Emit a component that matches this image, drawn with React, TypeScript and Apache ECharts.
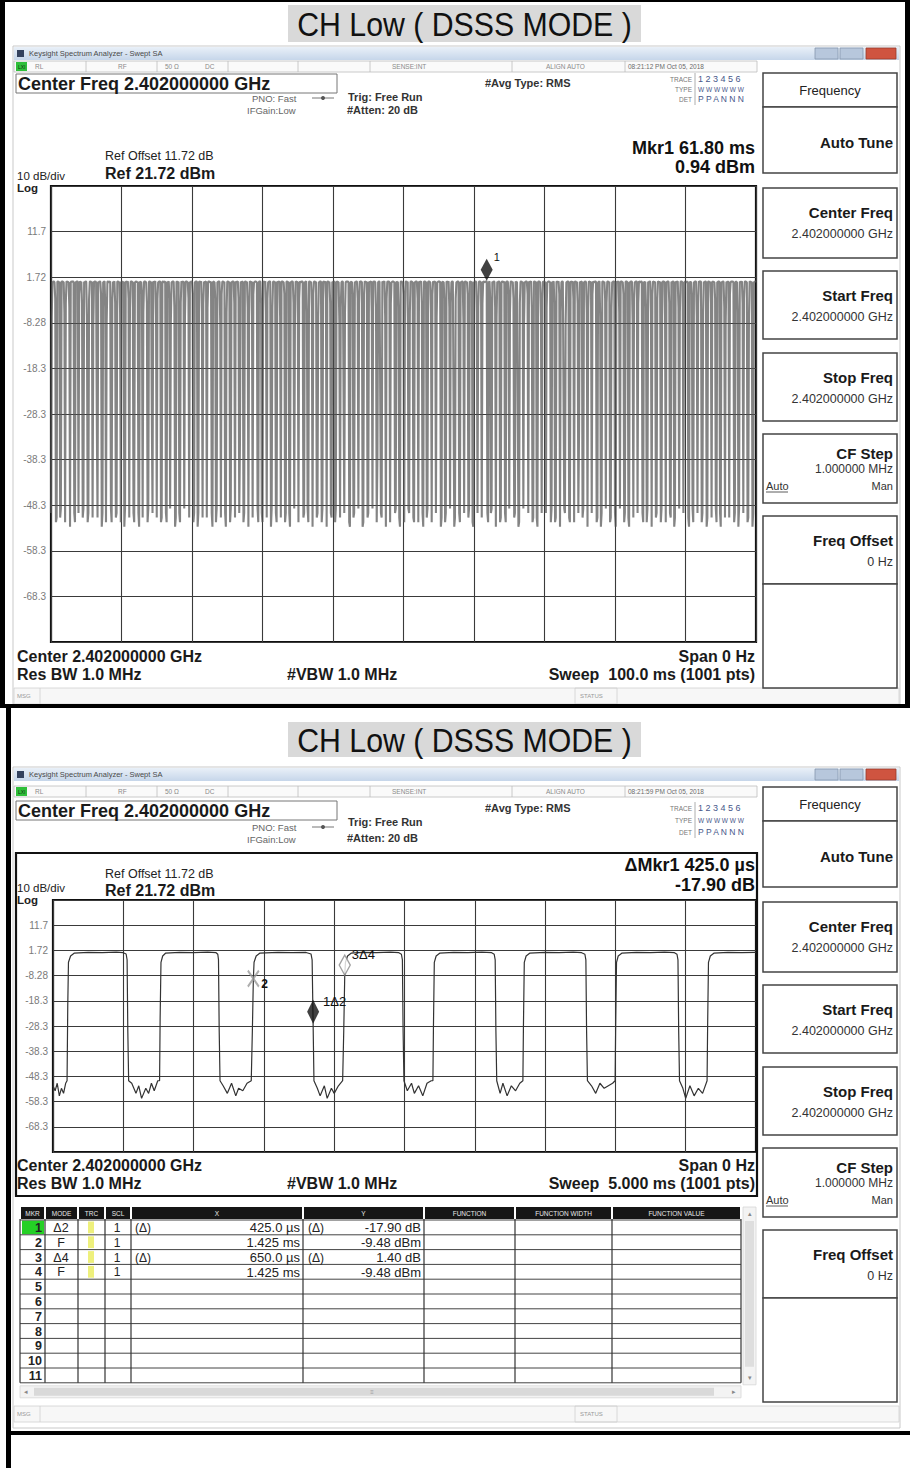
import React, { useEffect, useRef } from 'react';
import * as echarts from 'echarts';

const W = 910;
const H = 1468;
const FONT = '"Liberation Sans", Arial, Helvetica, sans-serif';

// ---------------- data ----------------
const panelTitle = 'CH Low ( DSSS MODE )';
const refLevel = 21.72;
const dbPerDiv = 10;
const yMin = -78.28;
const yTickLabels = ['-78.3', '-68.3', '-58.3', '-48.3', '-38.3', '-28.3', '-18.3', '-8.28', '1.72', '11.7', '21.7'];

// screen 1 : 100 ms sweep, 1001 pts (dBm)
const sweep1Ms = 100;
const points1 = 1001;
const trace1 = [
  -50,-7,0.6,0.7,0.8,0.6,-3,-52,-51,0.7,0.8,0.6,0.7,
  -51,-49,0.7,0.8,0.7,0.6,-6,-52,-4,0.8,0.7,0.7,0.6,
  -5,-53,0.6,0.8,0.7,0.8,0.7,-50,-52,0.6,0.7,0.8,0.7,
  -50,-2,0.8,0.6,0.7,-4,-51,-49,0.7,0.6,0.8,0.7,-7,
  -52,-50,-3,0.7,0.8,0.6,0.7,-51,-9,0.8,0.7,0.8,0.6,
  -30,-51,0.7,0.6,0.8,0.7,-2,-53,-50,0.6,0.7,0.8,-5,
  -52,-8,0.7,0.8,0.6,0.7,0.8,-49,-52,-3,0.7,0.6,0.8,
  -4,-51,-50,0.7,0.8,0.6,0.7,-6,-52,0.8,0.7,0.6,0.7,
  -53,-49,0.8,0.7,0.6,0.8,-3,-51,-5,0.7,0.8,0.7,0.6,
  -50,-52,0.6,0.7,0.8,0.6,0.7,-50,-53,0.8,0.6,0.7,-2,
  -51,-6,0.7,0.8,0.7,0.6,-4,-52,-49,0.7,0.8,0.6,0.7,
  -28,-50,0.8,0.6,0.7,0.8,-7,-51,-3,0.6,0.7,0.8,0.7,
  -52,-51,0.7,0.8,0.6,0.7,0.8,-50,-52,0.7,0.6,0.8,-3,
  -49,-8,0.6,0.7,0.8,0.7,-5,-53,-51,0.8,0.7,0.6,0.7,
  -50,-52,-4,0.8,0.6,0.7,0.8,-49,-7,0.7,0.8,0.7,0.6,
  -3,-51,0.7,0.6,0.8,0.7,-2,-52,-50,0.6,0.7,0.8,0.7,
  -53,-50,0.8,0.7,0.6,0.8,-6,-51,-4,0.7,0.6,0.7,0.8,
  -51,-5,0.7,0.8,0.7,0.6,0.7,-50,-53,0.8,0.7,0.6,-3,
  -52,-49,0.6,0.7,0.8,0.7,-8,-51,-2,0.7,0.8,0.6,0.7,
  -50,-53,-6,0.7,0.8,0.6,0.7,-52,-49,0.6,0.7,0.8,0.7,
  -4,-51,0.8,0.6,0.7,0.8,-3,-50,-35,0.7,0.6,0.7,0.8,
  -52,-50,0.7,0.8,0.6,0.7,-5,-53,-7,0.8,0.7,0.6,0.7,
  -51,-2,0.6,0.7,0.8,0.7,0.6,-49,-52,0.7,0.8,0.7,-4,
  -50,-52,0.8,0.7,0.6,0.8,-6,-51,-3,0.6,0.7,0.8,0.7,
  -53,-49,-5,0.7,0.8,0.6,0.7,-50,-52,0.8,0.6,0.7,0.8,
  -7,-51,0.7,0.8,0.7,0.6,-2,-52,-50,0.7,0.8,0.6,0.7,
  -50,-53,0.6,0.7,0.8,0.7,-4,-49,-8,0.8,0.7,0.7,0.6,
  -52,-3,0.8,0.6,0.7,0.8,0.7,-51,-50,0.6,0.7,0.8,-6,
  -49,-52,0.7,0.8,0.6,0.7,-5,-53,-2,0.7,0.8,0.6,0.7,
  -51,-50,-7,0.6,0.7,0.8,0.7,-52,-49,0.8,0.7,0.6,0.8,
  -3,-53,0.7,0.8,0.6,0.7,-4,-50,-51,0.7,0.6,0.8,0.7,
  -52,-49,0.8,0.7,0.7,0.6,-8,-51,-5,0.6,0.8,0.7,0.7,
  -50,-6,0.6,0.8,0.7,0.8,0.6,-52,-53,0.7,0.7,0.6,-2,
  -51,-50,0.7,0.6,0.8,0.7,-3,-49,-4,0.8,0.7,0.8,0.6,
  -53,-52,-2,0.8,0.7,0.6,0.7,-51,-50,0.7,0.6,0.7,0.8,
  -6,-49,0.7,0.7,0.8,0.6,-5,-52,-38,0.6,0.8,0.7,0.7,
  -50,-51,0.8,0.6,0.7,0.8,-7,-53,-3,0.7,0.7,0.8,0.6,
  -52,-4,0.6,0.7,0.8,0.7,0.6,-50,-49,0.8,0.6,0.7,-5,
  -51,-53,0.7,0.8,0.6,0.7,-2,-52,-8,0.7,0.8,0.6,0.7,
  -49,-50,-6,0.7,0.8,0.7,0.6,-51,-52,0.6,0.7,0.8,0.7,
  -3,-52,0.8,0.6,0.7,0.8,-4,-50,-53,0.7,0.8,0.7,0.6,
  -51,-49,0.7,0.8,0.7,0.6,-6,-52,-2,0.8,0.6,0.7,0.8,
  -50,-7,0.6,0.7,0.8,0.7,0.8,-53,-51,0.7,0.7,0.6,-3,
  -52,-50,0.8,0.7,0.6,0.8,-5,-49,-4,0.6,0.8,0.7,0.7,
  -53,-51,-3,0.6,0.7,0.8,0.7,-50,-52,0.7,0.6,0.8,0.7,
  -8,-50,0.7,0.8,0.6,0.7,-2,-51,-49,0.8,0.7,0.6,0.7,
  -52,-53,0.6,0.7,0.8,0.7,-6,-50,-5,0.7,0.8,0.7,0.6,
  -51,-4,0.8,0.7,0.6,0.8,0.7,0.94,-50,-52,0.6,0.8,-3,
  -50,-49,0.7,0.6,0.8,0.7,-5,-53,-7,0.7,0.6,0.8,0.7,
  -52,-51,0.6,0.8,0.7,0.6,0.8,-50,-52,0.7,0.8,0.7,-2,
  -49,-6,0.7,0.8,0.6,0.7,-3,-51,-50,0.8,0.6,0.7,0.7,
  -53,-52,-4,0.7,0.8,0.6,0.7,-49,-8,0.6,0.7,0.8,0.7,
  -2,-50,0.8,0.6,0.7,0.8,-5,-52,-51,0.7,0.8,0.6,0.7,
  -51,-53,0.7,0.8,0.7,0.6,-7,-50,-3,0.8,0.7,0.7,0.6,
  -50,-5,0.6,0.7,0.8,0.7,0.6,-52,-49,0.7,0.6,0.8,-4,
  -52,-51,0.8,0.7,0.6,0.8,-2,-53,-6,0.6,0.8,0.7,0.7,
  -49,-50,-8,0.6,0.7,0.8,0.7,-51,-52,0.8,0.7,0.6,0.8,
  -3,-52,0.7,0.8,0.6,0.7,-4,-50,-32,0.7,0.6,0.7,0.8,
  -51,-49,0.6,0.7,0.8,0.6,-6,-53,-5,0.8,0.7,0.6,0.7,
  -50,-2,0.8,0.6,0.7,0.8,0.7,-52,-51,0.6,0.7,0.8,-7,
  -53,-50,0.7,0.8,0.6,0.7,-3,-49,-4,0.7,0.8,0.6,0.7,
  -52,-51,-5,0.6,0.7,0.8,0.7,-50,-53,0.8,0.6,0.7,0.8,
  -6,-49,0.7,0.8,0.7,0.6,-2,-52,-50,0.7,0.8,0.7,0.6,
  -51,-53,0.6,0.7,0.8,0.7,-8,-51,-3,0.6,0.7,0.8,0.7,
  -50,-4,0.8,0.7,0.6,0.8,0.7,-50,-52,0.7,0.6,0.7,-5,
  -52,-49,0.7,0.6,0.8,0.7,-6,-53,-2,0.8,0.7,0.6,0.7,
  -51,-50,-3,0.8,0.7,0.6,0.7,-52,-49,0.6,0.8,0.7,0.8,
  -7,-52,0.6,0.7,0.8,0.7,-4,-50,-51,0.7,0.6,0.8,0.7,
  -53,-51,0.8,0.6,0.7,0.8,-5,-49,-6,0.7,0.8,0.7,0.6,
  -50,-3,0.7,0.8,0.6,0.7,0.8,-51,-53,0.6,0.7,0.6,-2,
  -49,-52,0.6,0.7,0.8,0.7,-7,-50,-4,0.8,0.7,0.8,0.7,
  -52,-50,-6,0.7,0.6,0.8,0.7,-53,-51,0.7,0.8,0.6,0.7,
  -4,-51,0.8,0.7,0.7,0.6,-3,-49,-52,0.6,0.7,0.8,0.7,
  -50,-53,0.7,0.6,0.8,0.7,-5,-51,-8,0.7,0.6,0.7,0.8,
  -51,-2,0.6,0.8,0.7,0.8,0.6,-52,-50,0.8,0.7,0.6,-6,
  -53,-49,0.7,0.7,0.6,0.8,-4,-50,-3,0.7,0.8,0.7,0.6,
  -52,-51,-7,0.8,0.7,0.6,0.7,-53,-50,0.6,0.7,0.8,0.7,
];
const marker1Ms = 61.8;
const marker1Dbm = 0.94;

// screen 2 : 5 ms sweep, [time ms, dBm]
const sweep2Ms = 5;
const trace2 = [
  [0, -52], [0.015, -54], [0.03, -51], [0.045, -56], [0.06, -53], [0.075, -55], [0.09, -51], [0.1, -50],
  [0.105, -20], [0.11, -3], [0.125, -0.5], [0.15, 0.6], [0.25, 0.9], [0.35, 0.8], [0.45, 1.0], [0.5, 0.8],
  [0.52, 0.3], [0.527, -2], [0.532, -30], [0.538, -50],
  [0.56, -51], [0.59, -55], [0.61, -52], [0.63, -57], [0.66, -53], [0.68, -55], [0.7, -51], [0.72, -54], [0.745, -50], [0.758, -50],
  [0.762, -25], [0.768, -3], [0.78, -0.5], [0.8, 0.6], [0.9, 0.9], [1.0, 0.8], [1.1, 1.0], [1.16, 0.8],
  [1.172, 0.2], [1.177, -2], [1.182, -30], [1.188, -50],
  [1.21, -52], [1.24, -55], [1.27, -51], [1.3, -56], [1.32, -53], [1.35, -54], [1.38, -51], [1.41, -50],
  [1.418, -30], [1.425, -9.48], [1.43, -3], [1.445, -0.5], [1.47, 0.6], [1.6, 0.9], [1.7, 0.8], [1.8, 0.9],
  [1.835, 0.3], [1.843, -2], [1.85, -27.38], [1.856, -50],
  [1.88, -53], [1.9, -56], [1.93, -52], [1.95, -57], [1.98, -53], [2.0, -55], [2.03, -52], [2.06, -50],
  [2.068, -30], [2.075, -8.08], [2.08, -3], [2.095, -0.5], [2.12, 0.6], [2.2, 0.9], [2.3, 0.8], [2.4, 1.0], [2.46, 0.8],
  [2.478, 0.2], [2.485, -2], [2.49, -30], [2.496, -50],
  [2.52, -54], [2.55, -51], [2.57, -55], [2.6, -52], [2.63, -56], [2.66, -51], [2.69, -50], [2.702, -50],
  [2.706, -28], [2.712, -3], [2.725, -0.5], [2.75, 0.6], [2.85, 0.9], [2.95, 0.8], [3.05, 1.0], [3.12, 0.8],
  [3.138, 0.2], [3.145, -2], [3.15, -30], [3.156, -50],
  [3.18, -55], [3.2, -51], [3.23, -56], [3.26, -52], [3.29, -54], [3.32, -51], [3.342, -50],
  [3.346, -28], [3.352, -3], [3.365, -0.5], [3.39, 0.6], [3.5, 0.9], [3.6, 0.8], [3.7, 1.0], [3.76, 0.8],
  [3.783, 0.2], [3.79, -2], [3.795, -30], [3.801, -50],
  [3.83, -52], [3.86, -55], [3.89, -51], [3.92, -53], [3.95, -52], [3.98, -51], [3.998, -50],
  [4.002, -28], [4.008, -3], [4.02, -0.5], [4.045, 0.6], [4.15, 0.9], [4.25, 0.8], [4.35, 1.0], [4.42, 0.8],
  [4.438, 0.2], [4.445, -2], [4.45, -30], [4.456, -50],
  [4.48, -53], [4.5, -57], [4.53, -52], [4.56, -56], [4.59, -53], [4.62, -55], [4.652, -50],
  [4.656, -28], [4.662, -3], [4.675, -0.5], [4.7, 0.6], [4.8, 0.9], [4.9, 0.8], [5.0, 0.9],
];
// markers of screen 2: [time ms, dBm]
const mkr1 = [1.85, -27.38];
const mkr2 = [1.425, -9.48];
const mkr3 = [2.075, -8.08];

const tableHeaders = ['MKR', 'MODE', 'TRC', 'SCL', 'X', 'Y', 'FUNCTION', 'FUNCTION WIDTH', 'FUNCTION VALUE'];
const tableRows = [
  ['1', 'Δ2', '1', '(Δ)', '425.0 µs', '(Δ)', '-17.90 dB'],
  ['2', 'F', '1', '', '1.425 ms', '', '-9.48 dBm'],
  ['3', 'Δ4', '1', '(Δ)', '650.0 µs', '(Δ)', '1.40 dB'],
  ['4', 'F', '1', '', '1.425 ms', '', '-9.48 dBm'],
];
const softKeys = [
  ['Center Freq', '2.402000000 GHz'],
  ['Start Freq', '2.402000000 GHz'],
  ['Stop Freq', '2.402000000 GHz'],
  ['CF Step', '1.000000 MHz'],
  ['Freq Offset', '0 Hz'],
];

// ---------------- helpers ----------------
function txt(x: number, y: number, text: string, size: number, o: any = {}) {
  const align = o.align || 'left';
  const el: any = {
    type: 'text', x, y, z: 20, silent: true,
    style: {
      text, fill: o.color || '#111',
      font: `${o.bold ? 'bold ' : ''}${size}px ${o.family || FONT}`,
      textAlign: align, textVerticalAlign: 'middle', align, verticalAlign: 'middle',
    },
  };
  if (o.scaleX) el.scaleX = o.scaleX;
  return el;
}
function rect(x: number, y: number, w: number, h: number, fill: any, stroke?: string, lw = 1, z = 5) {
  return {
    type: 'rect', z, silent: true, shape: { x, y, width: w, height: h },
    style: { fill, stroke: stroke || 'none', lineWidth: stroke ? lw : 0 },
  };
}
function ln(x1: number, y1: number, x2: number, y2: number, stroke: string, lw = 1, z = 6) {
  return { type: 'line', z, silent: true, shape: { x1, y1, x2, y2 }, style: { stroke, lineWidth: lw } };
}

function panel(L: any) {
  const g: any[] = [];
  g.push(rect(13, L.barTop - 1, 887, L.screenBottom - L.barTop + 1, 'none', '#c9c9c9', 1, 1));
  g.push(rect(14, L.barTop, 885, 13, new echarts.graphic.LinearGradient(0, 0, 0, 1, [
    { offset: 0, color: '#e9f0f8' }, { offset: 1, color: '#c6d6ea' }]), undefined, 1, 2));
  g.push(rect(17, L.barTop + 3, 7, 7, '#34425e'));
  g.push(txt(29, L.barTop + 6.5, 'Keysight Spectrum Analyzer - Swept SA', 7.5, { color: '#4a4a4a' }));
  g.push(rect(815, L.barTop + 1, 23, 11, '#b7c7dc', '#8797ad', 0.8));
  g.push(rect(840, L.barTop + 1, 23, 11, '#b7c7dc', '#8797ad', 0.8));
  g.push(rect(866, L.barTop + 1, 30, 11, '#cf5440', '#9a3a2a', 0.8));
  const sT = L.statusTop;
  g.push(rect(14, sT, 743, 11, '#fafafa', '#bdbdbd', 0.8));
  g.push(rect(16, sT + 1, 11, 9, '#2fbf3a'));
  g.push(txt(18, sT + 5.5, 'LXI', 5, { color: '#113311' }));
  [86, 157, 228, 298, 370, 512, 625].forEach((x) => g.push(ln(x, sT, x, sT + 11, '#bdbdbd', 0.8)));
  g.push(txt(35, sT + 5.5, 'RL', 6.5, { color: '#8a8a8a' }));
  g.push(txt(118, sT + 5.5, 'RF', 6.5, { color: '#8a8a8a' }));
  g.push(txt(165, sT + 5.5, '50 Ω', 6.5, { color: '#8a8a8a' }));
  g.push(txt(205, sT + 5.5, 'DC', 6.5, { color: '#8a8a8a' }));
  g.push(txt(392, sT + 5.5, 'SENSE:INT', 6.5, { color: '#8a8a8a' }));
  g.push(txt(546, sT + 5.5, 'ALIGN AUTO', 6.5, { color: '#8a8a8a' }));
  g.push(txt(628, sT + 5.5, L.time, 6.5, { color: '#6a6a6a' }));
  g.push(rect(16, L.cfBoxTop, 321, 19, 'none', '#777', 1));
  g.push(txt(18, L.cfBoxTop + 10, 'Center Freq 2.402000000 GHz', 18, { bold: true, color: '#1a1a1a' }));
  g.push(txt(252, L.pnoY, 'PNO: Fast', 9.5, { color: '#666' }));
  g.push(ln(312, L.pnoY, 334, L.pnoY, '#777', 1));
  g.push({ type: 'circle', z: 7, silent: true, shape: { cx: 323, cy: L.pnoY, r: 2 }, style: { fill: '#555' } });
  g.push(txt(247, L.ifgY, 'IFGain:Low', 9.5, { color: '#666' }));
  g.push(txt(348, L.trigY, 'Trig: Free Run', 11, { bold: true, color: '#333' }));
  g.push(txt(347, L.attenY, '#Atten: 20 dB', 11, { bold: true, color: '#333' }));
  g.push(txt(485, L.avgY, '#Avg Type: RMS', 11, { bold: true, color: '#333' }));
  const tY = L.traceY;
  g.push(txt(692, tY[0], 'TRACE', 6.5, { color: '#777', align: 'right' }));
  g.push(txt(692, tY[1], 'TYPE', 6.5, { color: '#777', align: 'right' }));
  g.push(txt(692, tY[2], 'DET', 6.5, { color: '#777', align: 'right' }));
  g.push(txt(698, tY[0], '1 2 3 4 5 6', 9, { color: '#46568a' }));
  g.push(txt(698, tY[1], 'W W W W W W', 6.5, { color: '#46568a' }));
  g.push(txt(698, tY[2], 'P P A N N N', 8.5, { color: '#46568a' }));
  g.push(ln(695, tY[0] - 6, 695, tY[2] + 6, '#999', 0.8));
  g.push(txt(755, L.mkrY[0], L.mkrText[0], 18, { bold: true, align: 'right', color: '#111' }));
  g.push(txt(755, L.mkrY[1], L.mkrText[1], 18, { bold: true, align: 'right', color: '#111' }));
  g.push(txt(105, L.refOffY, 'Ref Offset 11.72 dB', 12.5, { color: '#222' }));
  g.push(txt(105, L.refY, 'Ref 21.72 dBm', 16, { bold: true, color: '#1a1a1a' }));
  g.push(txt(17, L.divY, '10 dB/div', 11.5, { color: '#222' }));
  g.push(txt(17, L.logY, 'Log', 11.5, { bold: true, color: '#222' }));
  g.push(txt(17, L.centerY, 'Center 2.402000000 GHz', 16, { bold: true, color: '#1a1a1a' }));
  g.push(txt(17, L.resY, 'Res BW 1.0 MHz', 16, { bold: true, color: '#1a1a1a' }));
  g.push(txt(287, L.resY, '#VBW 1.0 MHz', 16, { bold: true, color: '#1a1a1a' }));
  g.push(txt(755, L.centerY, 'Span 0 Hz', 16, { bold: true, align: 'right', color: '#1a1a1a' }));
  g.push(txt(755, L.resY, L.sweep, 16, { bold: true, align: 'right', color: '#1a1a1a' }));
  if (L.frame) g.push(rect(16, L.frame[0], 741, L.frame[1] - L.frame[0], 'none', '#111', 2.2, 8));
  g.push(rect(14, L.msgTop, 885, 16, '#f7f7f7', '#d0d0d0', 0.8, 2));
  g.push(ln(40, L.msgTop, 40, L.msgTop + 16, '#d0d0d0', 0.8));
  g.push(txt(17, L.msgTop + 8, 'MSG', 6, { color: '#999' }));
  g.push(rect(575, L.msgTop, 42, 16, 'none', '#d0d0d0', 0.8));
  g.push(txt(580, L.msgTop + 8, 'STATUS', 6, { color: '#999' }));
  const kx = 763, kw = 134, kr = 893;
  g.push(rect(kx, L.freqBox[0], kw, L.freqBox[1] - L.freqBox[0], '#fff', '#444', 1.5));
  g.push(txt(830, (L.freqBox[0] + L.freqBox[1]) / 2, 'Frequency', 13, { align: 'center', color: '#222' }));
  g.push(rect(kx, L.autoBox[0], kw, L.autoBox[1] - L.autoBox[0], '#fff', '#444', 1.5));
  g.push(txt(kr, L.autoBox[0] + 35, 'Auto Tune', 15, { bold: true, align: 'right', color: '#1a1a1a' }));
  L.keyBoxes.forEach((b: number[], i: number) => {
    g.push(rect(kx, b[0], kw, b[1] - b[0], '#fff', '#444', 1.5));
    const [label, value] = softKeys[i];
    if (label === 'CF Step') {
      g.push(txt(kr, b[0] + 19, label, 15, { bold: true, align: 'right', color: '#1a1a1a' }));
      g.push(txt(kr, b[0] + 35, value, 12, { align: 'right', color: '#333' }));
      g.push(txt(766, b[0] + 52, 'Auto', 11, { color: '#333' }));
      g.push(ln(766, b[0] + 58, 788, b[0] + 58, '#333', 0.8));
      g.push(txt(kr, b[0] + 52, 'Man', 11, { align: 'right', color: '#333' }));
    } else {
      g.push(txt(kr, b[0] + 24, label, 15, { bold: true, align: 'right', color: '#1a1a1a' }));
      g.push(txt(kr, b[0] + 46, value, 12.5, { align: 'right', color: '#333' }));
    }
  });
  g.push(rect(kx, L.emptyBox[0], kw, L.emptyBox[1] - L.emptyBox[0], '#fff', '#444', 1.5));
  return g;
}

function markerTable() {
  const g: any[] = [];
  const cols = [20, 45, 78, 105, 131, 303, 424, 515, 612, 741];
  const hTop = 1207, hH = 12, rTop = 1220, rH = 14.8, nRows = 11;
  const tBottom = rTop + nRows * rH;
  for (let i = 0; i < cols.length - 1; i++) {
    g.push(rect(cols[i] + 1, hTop, cols[i + 1] - cols[i] - 2, hH, '#161616'));
    g.push(txt((cols[i] + cols[i + 1]) / 2, hTop + hH / 2, tableHeaders[i], 6.5, { align: 'center', color: '#e8e8e8' }));
  }
  g.push(rect(cols[1] - 23, rTop + 0.5, 22, rH - 1, '#25d025'));
  for (let r = 0; r <= nRows; r++) g.push(ln(cols[0], rTop + r * rH, cols[cols.length - 1], rTop + r * rH, '#444', 1));
  cols.forEach((x) => g.push(ln(x, hTop + hH, x, tBottom, '#333', 1.2)));
  for (let r = 0; r < nRows; r++) {
    g.push(txt(42, rTop + r * rH + rH / 2 + 0.5, String(r + 1), 12.5, { bold: true, align: 'right', color: '#222' }));
  }
  tableRows.forEach((row, r) => {
    const cy = rTop + r * rH + rH / 2 + 0.5;
    g.push(txt(61, cy, row[1], 12.5, { align: 'center', color: '#222' }));
    g.push(rect(88, rTop + r * rH + 1.5, 6, rH - 3, '#eef07c'));
    g.push(txt(117, cy, row[2], 12, { align: 'center', color: '#222' }));
    if (row[3]) g.push(txt(135, cy, row[3], 12, { color: '#222' }));
    g.push(txt(300, cy, row[4], 13, { align: 'right', color: '#222' }));
    if (row[5]) g.push(txt(308, cy, row[5], 12, { color: '#222' }));
    g.push(txt(421, cy, row[6], 13, { align: 'right', color: '#222' }));
  });
  g.push(rect(743, hTop, 13, tBottom - hTop + 2, '#f3f3f3', '#d6d6d6', 0.8));
  g.push(rect(745, hTop + 14, 9, tBottom - hTop - 30, '#dedede'));
  g.push(txt(749.5, hTop + 6, '▴', 7, { align: 'center', color: '#888' }));
  g.push(txt(749.5, tBottom - 5, '▾', 7, { align: 'center', color: '#888' }));
  g.push(rect(20, tBottom + 3, 721, 12, '#f3f3f3', '#d6d6d6', 0.8));
  g.push(rect(34, tBottom + 5, 680, 8, '#d9d9d9'));
  g.push(txt(26, tBottom + 9, '◂', 7, { align: 'center', color: '#888' }));
  g.push(txt(734, tBottom + 9, '▸', 7, { align: 'center', color: '#888' }));
  g.push(txt(372, tBottom + 9, '≡', 6, { align: 'center', color: '#999' }));
  return g;
}

const P1 = {
  barTop: 47, statusTop: 61, cfBoxTop: 74, pnoY: 98, ifgY: 110, trigY: 97, attenY: 110, avgY: 83,
  traceY: [79, 89, 99], mkrY: [148, 167], mkrText: ['Mkr1 61.80 ms', '0.94 dBm'],
  refOffY: 156, refY: 173, divY: 176, logY: 188, centerY: 656, resY: 674, msgTop: 688, screenBottom: 704,
  freqBox: [73, 107], autoBox: [107, 173],
  keyBoxes: [[188, 258], [271, 339], [353, 421], [434, 503], [516, 584]], emptyBox: [584, 688],
  time: '08:21:12 PM Oct 05, 2018', sweep: 'Sweep  100.0 ms (1001 pts)',
};
const P2 = {
  barTop: 768, statusTop: 786, cfBoxTop: 801, pnoY: 827, ifgY: 839, trigY: 822, attenY: 838, avgY: 808,
  traceY: [808, 820, 832], mkrY: [865, 885], mkrText: ['ΔMkr1 425.0 µs', '-17.90 dB'],
  refOffY: 874, refY: 890, divY: 888, logY: 900, centerY: 1165, resY: 1183, msgTop: 1406, screenBottom: 1428,
  freqBox: [787, 821], autoBox: [821, 887],
  keyBoxes: [[902, 972], [985, 1053], [1067, 1135], [1148, 1217], [1230, 1298]], emptyBox: [1298, 1402],
  time: '08:21:59 PM Oct 05, 2018', sweep: 'Sweep  5.000 ms (1001 pts)', frame: [853, 1196],
};

function staticElements() {
  const pageEls: any[] = [
    rect(0, 0, W, 2, '#000', undefined, 1, 30),
    rect(0, 0, 5, 708, '#000', undefined, 1, 30),
    rect(905, 0, 5, 708, '#000', undefined, 1, 30),
    rect(0, 704, W, 4, '#000', undefined, 1, 30),
    rect(6, 704, 5, H - 704, '#000', undefined, 1, 30),
    rect(6, 1431, W - 6, 4, '#000', undefined, 1, 30),
    rect(288, 5, 353, 37, '#d9d9d9', undefined, 1, 3),
    txt(464.5, 24.5, panelTitle, 34, { align: 'center', color: '#111', scaleX: 0.89 }),
    rect(288, 722, 353, 35, '#d9d9d9', undefined, 1, 3),
    txt(464.5, 740.5, panelTitle, 34, { align: 'center', color: '#111', scaleX: 0.89 }),
  ];
  return pageEls.concat(panel(P1), panel(P2), markerTable());
}

function buildOption(els: any[]) {
  const yAxis = (gridIndex: number) => ({
    type: 'value', gridIndex, min: yMin, max: refLevel, interval: dbPerDiv,
    axisLine: { show: false }, axisTick: { show: false },
    axisLabel: {
      show: true, showMinLabel: false, showMaxLabel: false, color: '#7a7a7a', fontSize: 10,
      fontFamily: FONT, margin: 5,
      formatter: (v: number) => yTickLabels[Math.round((v - yMin) / dbPerDiv)] || '',
    },
    splitLine: { show: true, lineStyle: { color: '#3a3a3a', width: 1.1 } },
  });
  const xAxis = (gridIndex: number, max: number) => ({
    type: 'value', gridIndex, min: 0, max, interval: max / 10,
    axisLine: { show: false }, axisTick: { show: false }, axisLabel: { show: false },
    splitLine: { show: true, lineStyle: { color: '#3a3a3a', width: 1.1 } },
  });

  return {
    animation: false,
    backgroundColor: '#fff',
    grid: [
      { left: 51, top: 186, width: 705, height: 456, show: true, borderColor: '#111', borderWidth: 2.2, backgroundColor: '#fff' },
      { left: 53, top: 900, width: 703, height: 252, show: true, borderColor: '#111', borderWidth: 2.2, backgroundColor: '#fff' },
    ],
    xAxis: [xAxis(0, sweep1Ms), xAxis(1, sweep2Ms)],
    yAxis: [yAxis(0), yAxis(1)],
    series: [
      {
        type: 'line', xAxisIndex: 0, yAxisIndex: 0, symbol: 'none', z: 3,
        data: trace1.map((v, i) => [(i * sweep1Ms) / (points1 - 1), v]),
        lineStyle: { color: '#555555', width: 2.1, opacity: 0.72 },
      },
      {
        type: 'scatter', xAxisIndex: 0, yAxisIndex: 0, z: 6,
        data: [[marker1Ms, marker1Dbm]], symbol: 'diamond', symbolSize: [12, 22], symbolOffset: [0, '-50%'],
        itemStyle: { color: '#111' },
      },
      {
        type: 'line', xAxisIndex: 1, yAxisIndex: 1, symbol: 'none', z: 3,
        data: trace2, lineStyle: { color: '#333', width: 1.2 },
      },
      {
        type: 'scatter', xAxisIndex: 1, yAxisIndex: 1, z: 6,
        data: [mkr1], symbol: 'diamond', symbolSize: [12, 24], symbolOffset: [0, '-50%'],
        itemStyle: { color: '#111' },
      },
      {
        type: 'scatter', xAxisIndex: 1, yAxisIndex: 1, z: 6,
        data: [mkr2], symbol: 'path://M0 0L10 16M10 0L0 16', symbolSize: [11, 16],
        itemStyle: { color: 'none', borderColor: '#9a9a9a', borderWidth: 2.2 },
      },
      {
        type: 'scatter', xAxisIndex: 1, yAxisIndex: 1, z: 6,
        data: [mkr3], symbol: 'diamond', symbolSize: [11, 20], symbolOffset: [0, '-50%'],
        itemStyle: { color: '#fff', borderColor: '#8a8a8a', borderWidth: 1.5 },
      },
    ],
    graphic: { elements: els },
  };
}

export default function App() {
  const ref = useRef<HTMLDivElement>(null);
  useEffect(() => {
    if (!ref.current) return;
    const chart = echarts.init(ref.current, undefined, { renderer: 'svg', width: W, height: H });
    const els = staticElements();
    chart.setOption(buildOption(els) as any);
    // marker labels, placed from the axes' own pixel mapping
    const px = (gridIndex: number, pt: number[]) => chart.convertToPixel({ gridIndex } as any, pt) as number[];
    const a = px(0, [marker1Ms, marker1Dbm]);
    const b = px(1, mkr1);
    const c = px(1, mkr2);
    const d = px(1, mkr3);
    const labels = [
      txt(a[0] + 7, a[1] - 24, '1', 11, { color: '#111' }),
      txt(b[0] + 10, b[1] - 22, '1Δ2', 13, { color: '#111' }),
      txt(c[0] + 8, c[1] + 5, '2', 12, { bold: true, color: '#111' }),
      txt(d[0] + 7, d[1] - 21, '3Δ4', 13, { color: '#111' }),
    ];
    chart.setOption({ graphic: { elements: els.concat(labels) } } as any);
    return () => chart.dispose();
  }, []);
  return <div ref={ref} style={{ position: 'absolute', left: 0, top: 0, width: W, height: H, background: '#fff' }} />;
}
